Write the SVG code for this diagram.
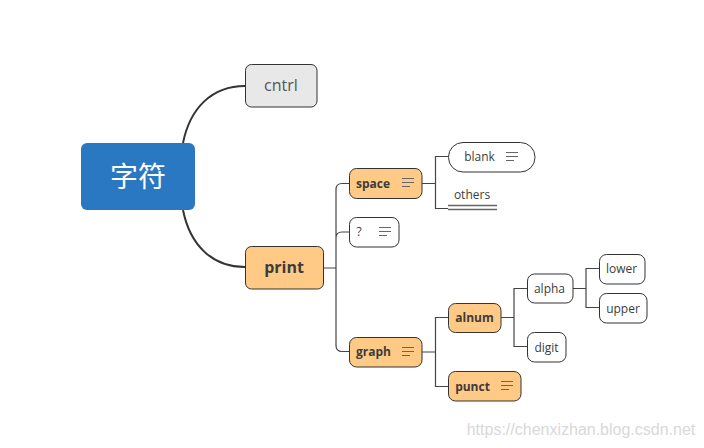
<svg xmlns="http://www.w3.org/2000/svg" width="704" height="448" viewBox="0 0 704 448">
<style>
text{font-family:"Open Sans","Noto Sans CJK SC",sans-serif;fill:#3c3c3c;text-anchor:middle}
.n{stroke:#333;stroke-width:1}
.w{fill:#fff}.o{fill:#ffca85}
.t{font-size:12px}
.b{font-size:12px;font-weight:700}
.c{fill:none;stroke:#444;stroke-width:1.200}
.c2{fill:none;stroke:#333;stroke-width:2}
.m{fill:none;stroke:#666;stroke-width:1}
</style>
<defs>
<path id="notes" class="m" d="M0 .5H12M0 4.500H12M0 8.500H8"/>
</defs>
<rect width="704" height="448" fill="#fff"/>
<g id="connectors">
<path class="c2" d="M183 143C190 108 212 86 245 86"/>
<path class="c2" d="M183 210C190 245 212 267 245 267"/>
<path class="c" d="M323 268H336M349 183.500H342Q336 183.500 336 189.500V345.500Q336 351.500 342 351.500H349M336 238Q336 232 342 232H349"/>
<path class="c" d="M422 183.500H435.500M448 156.500H435.500V208.500H448M422 352H435.500M448 317.500H435.500V386.500H448"/>
<path class="c" d="M501 317.500H514M527 288.500H514V346.500H527M573 288.500H586M599 268.500H586V307.500H599"/>
<path d="M448 205.500H497M448 209.500H497" fill="none" stroke="#666" stroke-width="1.500"/>
</g>
<g id="root"><rect x="81" y="143" width="114" height="67" rx="6" fill="#2a78c2"/><text x="138" y="187" font-size="28" style="fill:#fff">字符</text></g>
<g id="cntrl"><rect class="n" x="245.500" y="64.500" width="71.500" height="42.500" rx="6" fill="#e8e8e8"/><text x="281" y="91" font-size="16" style="fill:#555">cntrl</text></g>
<g id="print"><rect class="n o" x="245.500" y="246.500" width="78" height="42.500" rx="6"/><text x="284" y="273" font-size="16" font-weight="700">print</text></g>
<g id="space"><rect class="n o" x="349.500" y="168.500" width="72.500" height="30" rx="7"/><text class="b" x="373" y="188">space</text><use href="#notes" x="402" y="178"/></g>
<g id="question"><rect class="n w" x="349.500" y="217.500" width="49.500" height="29.500" rx="7"/><text class="t" x="359" y="236">?</text><use href="#notes" x="379" y="227"/></g>
<g id="graph"><rect class="n o" x="349.500" y="337.500" width="72.500" height="29.500" rx="7"/><text class="b" x="373.500" y="356">graph</text><use href="#notes" x="402" y="347"/></g>
<g id="blank"><rect class="n w" x="448.500" y="142.500" width="86.500" height="29.500" rx="14.500"/><text class="t" x="479.500" y="161">blank</text><use href="#notes" x="506" y="152"/></g>
<g id="others"><text class="t" x="472" y="199">others</text></g>
<g id="alnum"><rect class="n o" x="448.500" y="303.500" width="52.500" height="29" rx="7"/><text class="b" x="474.500" y="322">alnum</text></g>
<g id="punct"><rect class="n o" x="448.500" y="371.500" width="72.500" height="29.500" rx="7"/><text class="b" x="472.500" y="390.500">punct</text><use href="#notes" x="501" y="381"/></g>
<g id="alpha"><rect class="n w" x="527.500" y="274" width="45.500" height="29" rx="7"/><text class="t" x="549.500" y="293">alpha</text></g>
<g id="digit"><rect class="n w" x="527.500" y="332.500" width="38.500" height="29.500" rx="7"/><text class="t" x="546.500" y="351.500">digit</text></g>
<g id="lower"><rect class="n w" x="599.500" y="254.500" width="45.500" height="29.500" rx="7"/><text class="t" x="621.500" y="273">lower</text></g>
<g id="upper"><rect class="n w" x="599.500" y="293.500" width="47.500" height="29.500" rx="7"/><text class="t" x="623" y="312.500">upper</text></g>
<text x="581" y="435" font-size="16" style="font-family:'Liberation Sans',sans-serif;fill:#d8d8d8">https://chenxizhan.blog.csdn.net</text>
</svg>
